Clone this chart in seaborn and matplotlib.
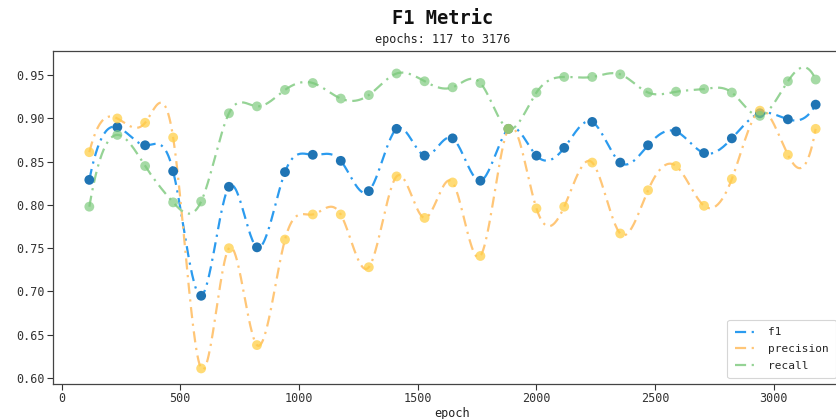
import numpy as np
import pandas as pd
import matplotlib
matplotlib.use("Agg")
import matplotlib.pyplot as plt
import seaborn as sns

# ---- data ----
epochs = [117, 235, 352, 470, 588, 705, 823, 941, 1058, 1176, 1294, 1411, 1529, 1647,
          1764, 1882, 2000, 2117, 2235, 2353, 2470, 2588, 2706, 2823, 2941, 3059, 3176]
f1 = [0.829, 0.890, 0.869, 0.839, 0.695, 0.821, 0.751, 0.838, 0.858, 0.851, 0.816, 0.888,
      0.857, 0.877, 0.828, 0.888, 0.857, 0.866, 0.896, 0.849, 0.869, 0.885, 0.860, 0.877,
      0.906, 0.899, 0.916]
precision = [0.861, 0.900, 0.895, 0.878, 0.611, 0.750, 0.638, 0.760, 0.789, 0.789, 0.728,
             0.833, 0.785, 0.826, 0.741, 0.888, 0.796, 0.798, 0.849, 0.767, 0.817, 0.845,
             0.799, 0.830, 0.909, 0.858, 0.888]
recall = [0.798, 0.881, 0.845, 0.803, 0.804, 0.906, 0.914, 0.933, 0.941, 0.923, 0.927,
          0.952, 0.943, 0.936, 0.941, 0.888, 0.930, 0.948, 0.948, 0.951, 0.930, 0.931,
          0.934, 0.930, 0.903, 0.943, 0.945]
series_names = ["f1", "precision", "recall"]
title = "F1 Metric"
subtitle = "epochs: 117 to 3176"
xlabel = "epoch"


def spline(x, y, n=700):
    """Not-a-knot cubic spline through the points (used only to draw the smooth line)."""
    x = np.asarray(x, float)
    y = np.asarray(y, float)
    m = len(x)
    h = np.diff(x)
    A = np.zeros((m, m))
    b = np.zeros(m)
    for i in range(1, m - 1):
        A[i, i - 1] = h[i - 1]
        A[i, i] = 2 * (h[i - 1] + h[i])
        A[i, i + 1] = h[i]
        b[i] = 6 * ((y[i + 1] - y[i]) / h[i] - (y[i] - y[i - 1]) / h[i - 1])
    A[0, 0] = h[1]; A[0, 1] = -(h[0] + h[1]); A[0, 2] = h[0]
    A[-1, -3] = h[-1]; A[-1, -2] = -(h[-2] + h[-1]); A[-1, -1] = h[-2]
    M = np.linalg.solve(A, b)
    xs = np.linspace(x[0], x[-1], n)
    idx = np.clip(np.searchsorted(x, xs) - 1, 0, m - 2)
    x0, x1 = x[idx], x[idx + 1]
    hh = x1 - x0
    ys = (M[idx] * (x1 - xs) ** 3 / (6 * hh) + M[idx + 1] * (xs - x0) ** 3 / (6 * hh)
          + (y[idx] / hh - M[idx] * hh / 6) * (x1 - xs)
          + (y[idx + 1] / hh - M[idx + 1] * hh / 6) * (xs - x0))
    return xs, ys


sns.set_theme(style="white")
mono = ["DejaVu Sans Mono", "Liberation Mono"]
plt.rcParams["font.family"] = mono

fig = plt.figure(figsize=(8.37, 4.19), dpi=100)
ax = fig.add_axes([53 / 837, 35 / 419, (852 - 53) / 837, 333 / 419])

line_colors = ["#2b9bef", "#ffc677", "#95d395"]
marker_colors = ["#1f74b4", "#ffcf48", "#7fcb7f"]
marker_alpha = [1.0, 0.75, 0.7]

df = pd.DataFrame({"epoch": epochs, "f1": f1, "precision": precision, "recall": recall})

for name, lc in zip(series_names, line_colors):
    xs, ys = spline(df["epoch"], df[name])
    sns.lineplot(x=xs, y=ys, ax=ax, color=lc, linewidth=1.6, label=name,
                 linestyle=(0, (5, 2.5, 1, 2.5)), sort=False)

for name, mc, a in zip(series_names, marker_colors, marker_alpha):
    sns.scatterplot(data=df, x="epoch", y=name, ax=ax, color=mc, alpha=a, s=50,
                    edgecolor="none", zorder=3)

ax.set_xlim(117 - 153, 3176 + 153)
ax.set_ylim(0.593, 0.978)
ax.set_xticks([0, 500, 1000, 1500, 2000, 2500, 3000])
ax.set_yticks([0.60, 0.65, 0.70, 0.75, 0.80, 0.85, 0.90, 0.95])
ax.set_yticklabels([f"{v:.2f}" for v in ax.get_yticks()])
ax.set_xlabel(xlabel, fontsize=8.5, labelpad=1, color="#222222")
ax.set_ylabel("")
ax.tick_params(axis="both", which="both", labelsize=8.5, length=4, width=0.8,
               colors="#333333", left=True, bottom=True, pad=2)
for s in ax.spines.values():
    s.set_color("#444444")
    s.set_linewidth(0.9)

leg = ax.legend(loc="lower right", fontsize=8, frameon=True, handlelength=2.2,
                bbox_to_anchor=(836 / 837, 41 / 419), bbox_transform=fig.transFigure,
                borderaxespad=0, labelspacing=0.6, handletextpad=0.8, borderpad=0.65)
leg.get_frame().set_edgecolor("#cccccc")
leg.get_frame().set_linewidth(0.8)

fig.text(443 / 837, 1 - 19 / 419, title, ha="center", va="center", fontsize=13.5,
         fontweight="bold", color="#111111")
fig.text(443 / 837, 1 - 40 / 419, subtitle, ha="center", va="center", fontsize=8.5,
         color="#222222")

fig.savefig("out.png", dpi=100)
